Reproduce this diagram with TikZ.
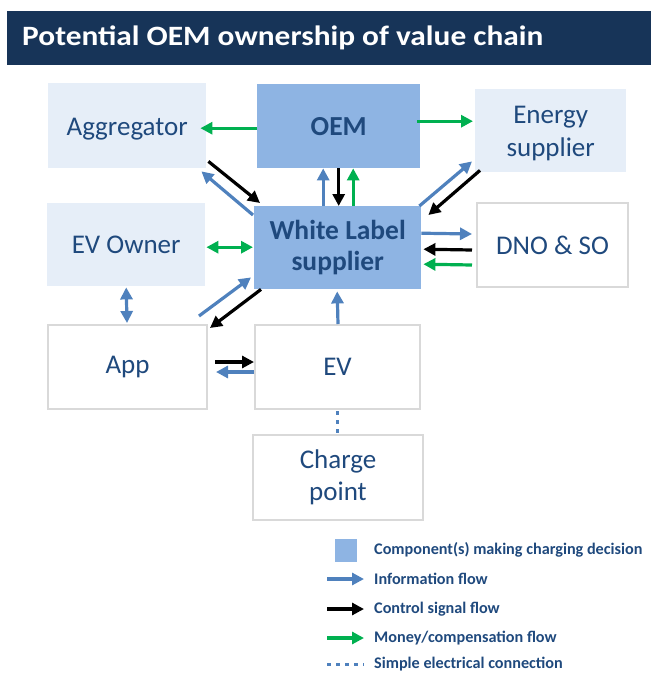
\documentclass[tikz,border=0pt]{standalone}
\usepackage{fontspec}
\setmainfont{Carlito}
\newfontfamily\titlefont[FakeStretch=1.12]{Carlito}
\usetikzlibrary{arrows.meta,calc}
\definecolor{navy}{RGB}{23,52,88}
\definecolor{lightfill}{RGB}{230,238,248}
\definecolor{decfill}{RGB}{142,180,227}
\definecolor{txtblue}{RGB}{31,73,125}
\definecolor{infoblue}{RGB}{79,129,189}
\definecolor{moneygreen}{RGB}{0,176,80}
\definecolor{graybd}{RGB}{217,217,217}
\newcommand{\lowertext}[1]{\raisebox{-3pt}[\height][\depth]{#1}}
\tikzset{
  box/.style={anchor=north west, inner sep=0pt, align=center, text=txtblue,
    font=\fontsize{27}{32.5}\selectfont},
  lbox/.style={box, fill=lightfill},
  dbox/.style={box, fill=decfill, font=\fontsize{27.5}{31}\selectfont\bfseries},
  wbox/.style={box, fill=white, draw=graybd, line width=2pt},
  flow/.style={line width=3.2pt, -{Triangle[length=12pt,width=12pt]}},
  info/.style={flow, color=infoblue},
  ctrl/.style={flow, color=black},
  money/.style={flow, color=moneygreen},
  both/.style={{Triangle[length=12pt,width=12pt]}-{Triangle[length=12pt,width=12pt]}},
  elec/.style={line width=3pt, color=infoblue, dash pattern=on 4pt off 5pt},
  legtext/.style={anchor=west, inner sep=0pt, text=txtblue,
    font=\fontsize{16.2}{18}\selectfont\bfseries},
}
\begin{document}
\begin{tikzpicture}[x=1pt,y=-1pt]
\useasboundingbox (0,0) rectangle (651,673);
% title
\fill[navy] (7,11) rectangle (651,65);
\node[anchor=west, inner sep=0pt, text=white, font=\titlefont\fontsize{28}{32}\selectfont\bfseries]
  (title) at (22,38) {Potential OEM ownership of value chain};
% boxes
\node[lbox, minimum width=158pt, minimum height=85pt] (agg) at (48,83) {\lowertext{Aggregator}};
\node[dbox, minimum width=163pt, minimum height=84pt] (oem) at (257,84) {OEM};
\node[lbox, minimum width=151pt, minimum height=83pt] (es) at (475,89) {\lowertext{\begin{tabular}{@{}c@{}}Energy\\[0.5pt]supplier\end{tabular}}};
\node[lbox, minimum width=158pt, minimum height=83pt] (evo) at (47,203) {EV Owner};
\node[dbox, minimum width=167pt, minimum height=83pt] (wl) at (254,206) {White Label\\supplier};
\node[wbox, minimum width=151pt, minimum height=84pt] (dno) at (476,202) {DNO \& SO};
\node[wbox, minimum width=159pt, minimum height=84pt] (app) at (47,324) {App};
\node[wbox, minimum width=165pt, minimum height=84pt] (ev) at (254,324) {EV};
\node[wbox, minimum width=170pt, minimum height=85pt] (cp) at (252,434) {Charge\\point};
% connectors
\draw[money] ($(oem.west)+(0,2)$) -- ($(agg.east)+(-6,2.5)$);
\draw[money] ($(oem.east)+(-3,-5)$) -- ($(es.west)+(-2,-9.5)$);
\draw[ctrl] ($(agg.south east)+(2,-7)$) -- ($(wl.north west)+(6,-3)$);
\draw[info] ($(wl.north west)+(-1,9)$) -- ($(agg.south east)+(-5,3)$);
\draw[info] ($(wl.north)+(-14.5,0)$) -- ($(oem.south)+(-15.5,0)$);
\draw[ctrl] (oem.south) -- (oem.south |- wl.north);
\draw[money] ($(wl.north)+(15.5,0)$) -- ($(oem.south)+(14.5,0)$);
\draw[info] ($(wl.north east)+(-2,0)$) -- ($(es.south west)+(-3,-11)$);
\draw[ctrl] ($(es.south west)+(5,-2)$) -- ($(wl.north east)+(7,9)$);
\draw[info] ($(wl.east)+(0,-14.5)$) -- ($(dno.west)+(-4,-11)$);
\draw[ctrl] ($(dno.west)+(-4,5)$) -- ($(wl.east)+(2,1.5)$);
\draw[money] ($(dno.west)+(-4,20)$) -- ($(wl.east)+(2,16.5)$);
\draw[money, both] ($(evo.east)+(1,2.5)$) -- ($(wl.west)+(-1,-0.5)$);
\draw[info, both] ($(evo.south)+(0,1)$) -- ($(app.north)+(-0.5,-1)$);
\draw[info] ($(app.north east)+(-9,-8)$) -- ($(wl.south west)+(-3,-12)$);
\draw[ctrl] ($(wl.south west)+(7,0)$) -- ($(app.north east)+(2,4)$);
\draw[ctrl] ($(app.east)+(7,-5)$) -- ($(ev.west)+(0,-5)$);
\draw[info] ($(ev.west)+(0,5)$) -- ($(app.east)+(8,5)$);
\draw[info] ($(ev.north)+(0.5,0)$) -- ($(wl.south)+(-0.5,2)$);
\draw[elec] ($(ev.south)+(0,1)$) -- ($(cp.north)+(-0.5,-1)$);
% legend
\node[legtext] (l0) at (374,550) {Component(s) making charging decision};
\fill[decfill] (335,539) rectangle (357,562);
\node[legtext] (l1) at (374,579) {Information flow};
\node[legtext] (l2) at (374,609) {Control signal flow};
\node[legtext] (l3) at (374,638) {Money/compensation flow};
\node[legtext] (l4) at (374,664.5) {Simple electrical connection};
\draw[info] ($(l1.west)+(-47,0)$) -- ($(l1.west)+(-10,0)$);
\draw[ctrl] ($(l2.west)+(-47,0)$) -- ($(l2.west)+(-10,0)$);
\draw[money] ($(l3.west)+(-47,0)$) -- ($(l3.west)+(-10,0)$);
\draw[elec] ($(l4.west)+(-47,0)$) -- ($(l4.west)+(-10,0)$);
\end{tikzpicture}
\end{document}
